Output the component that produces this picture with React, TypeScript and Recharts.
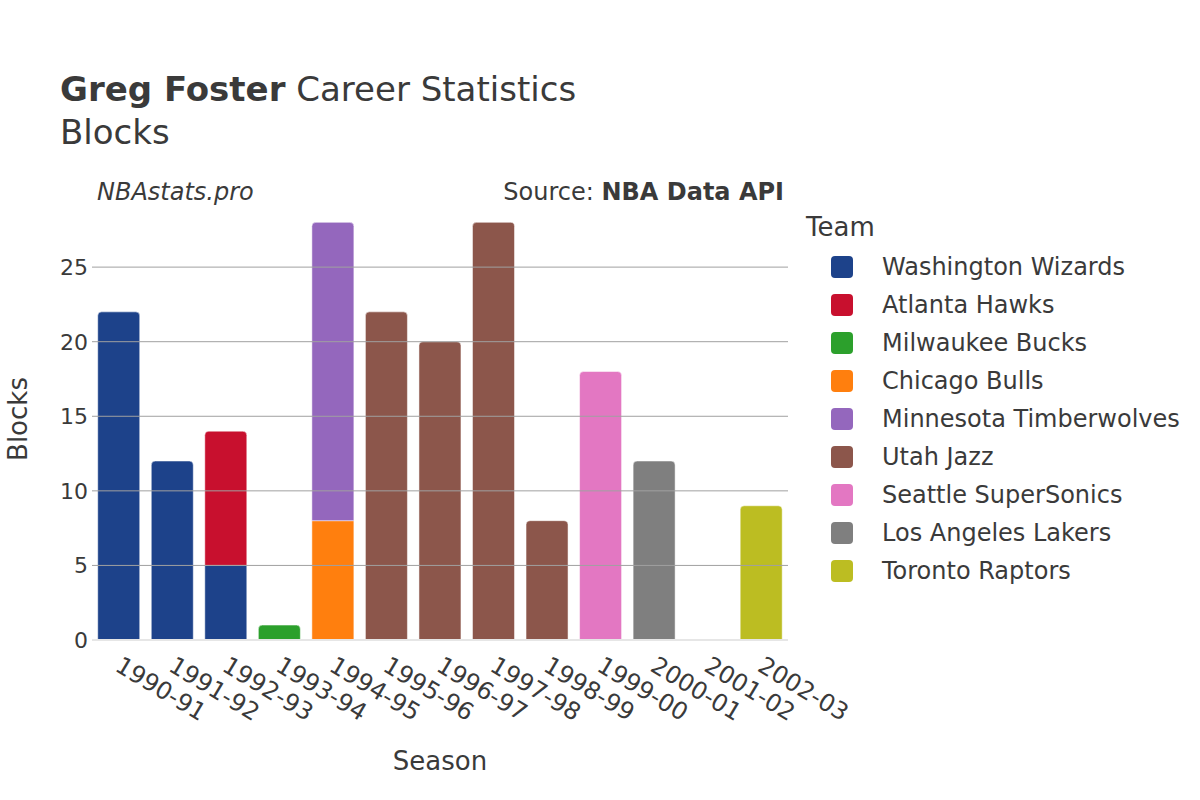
import React from 'react';
import { BarChart, Bar, XAxis, YAxis, ReferenceLine } from 'recharts';

const seasons = ['1990-91', '1991-92', '1992-93', '1993-94', '1994-95', '1995-96', '1996-97', '1997-98', '1998-99', '1999-00', '2000-01', '2001-02', '2002-03'];

const teams = ['Washington Wizards', 'Atlanta Hawks', 'Milwaukee Bucks', 'Chicago Bulls', 'Minnesota Timberwolves', 'Utah Jazz', 'Seattle SuperSonics', 'Los Angeles Lakers', 'Toronto Raptors'];
const teamColors = ['#1d428a', '#c8102e', '#2ca02c', '#ff7f0e', '#9467bd', '#8c564b', '#e377c2', '#7f7f7f', '#bcbd22'];

// blocks per season, by team (null = did not play for that team)
const washington = [22, 12, 5, null, null, null, null, null, null, null, null, null, null];
const atlanta = [null, null, 9, null, null, null, null, null, null, null, null, null, null];
const milwaukee = [null, null, null, 1, null, null, null, null, null, null, null, null, null];
const chicago = [null, null, null, null, 8, null, null, null, null, null, null, null, null];
const minnesota = [null, null, null, null, 20, null, null, null, null, null, null, null, null];
const utah = [null, null, null, null, null, 22, 20, 28, 8, null, null, null, null];
const seattle = [null, null, null, null, null, null, null, null, null, 18, null, null, null];
const lakers = [null, null, null, null, null, null, null, null, null, null, 12, 0, null];
const toronto = [null, null, null, null, null, null, null, null, null, null, null, null, 9];

const teamValues = [washington, atlanta, milwaukee, chicago, minnesota, utah, seattle, lakers, toronto];
const yTicks = [0, 5, 10, 15, 20, 25];

const data = seasons.map((season, i) => {
  const row: any = { season };
  teams.forEach((t, j) => {
    row[t] = teamValues[j][i];
  });
  return row;
});

const FONT = '"DejaVu Sans", sans-serif';
const TEXT = '#3a3a3a';

function Segment(props: any) {
  const { x, y, width, height, fill, payload, idx } = props;
  if (!height || height <= 0) return null;
  const isTop = !teams.slice(idx + 1).some((t) => payload[t] > 0);
  const r = isTop ? Math.min(4, height) : 0;
  const d = `M${x},${y + height} L${x},${y + r} Q${x},${y} ${x + r},${y} L${x + width - r},${y} Q${x + width},${y} ${x + width},${y + r} L${x + width},${y + height} Z`;
  return <path d={d} fill={fill} stroke="#ffffff" strokeWidth={0.5} />;
}

function SeasonTick(props: any) {
  const { x, y, payload } = props;
  return (
    <g transform={`translate(${x + 4},${y + 7})`}>
      <text transform="rotate(31)" textAnchor="start" dominantBaseline="hanging" fontSize={24} fill={TEXT} fontFamily={FONT}>
        {payload.value}
      </text>
    </g>
  );
}

export default function App() {
  return (
    <div style={{ position: 'absolute', left: 0, top: 0, width: 1200, height: 800, background: '#fff' }}>
      <BarChart width={1200} height={800} data={data} margin={{ top: 200, right: 412, bottom: 0, left: 0 }} barCategoryGap="10.7%">
        {yTicks.slice(1).map((v) => (
          <ReferenceLine key={v} y={v} stroke="#a0a0a0" strokeWidth={1} />
        ))}
        <XAxis dataKey="season" tick={<SeasonTick />} tickLine={false} axisLine={false} height={160} interval={0} />
        <YAxis width={92} domain={[0, 29.5]} ticks={yTicks} tickLine={false} axisLine={false} tickSize={0} tickMargin={4}
          tick={{ fontSize: 22, fill: TEXT, fontFamily: FONT }} />
        {teams.map((t, i) => (
          <Bar key={t} dataKey={t} stackId="a" fill={teamColors[i]} isAnimationActive={false}
            shape={(p: any) => <Segment {...p} idx={i} />} />
        ))}
        <ReferenceLine y={0} stroke="#e6e6e6" strokeWidth={2} />
      </BarChart>
      <svg width={1200} height={800} style={{ position: 'absolute', left: 0, top: 0, pointerEvents: 'none' }} fontFamily={FONT}>
        <text x={60} y={101} fontSize={34} fill={TEXT}>
          <tspan fontWeight="bold">Greg Foster</tspan> Career Statistics
        </text>
        <text x={60} y={144} fontSize={34} fill={TEXT}>Blocks</text>
        <text x={97} y={200} fontSize={24} fill={TEXT} fontStyle="italic">NBAstats.pro</text>
        <text x={784} y={200} fontSize={24} fill={TEXT} textAnchor="end">
          Source: <tspan fontWeight="bold">NBA Data API</tspan>
        </text>
        <text transform="translate(27,419) rotate(-90)" fontSize={26} fill={TEXT} textAnchor="middle">Blocks</text>
        <text x={440} y={770} fontSize={26} fill={TEXT} textAnchor="middle">Season</text>
        <text x={806} y={236} fontSize={26} fill={TEXT}>Team</text>
        {teams.map((t, i) => (
          <g key={t}>
            <rect x={831} y={256 + i * 38} width={22} height={22} rx={4} fill={teamColors[i]} />
            <text x={882} y={275 + i * 38} fontSize={24} fill={TEXT}>{t}</text>
          </g>
        ))}
      </svg>
    </div>
  );
}
